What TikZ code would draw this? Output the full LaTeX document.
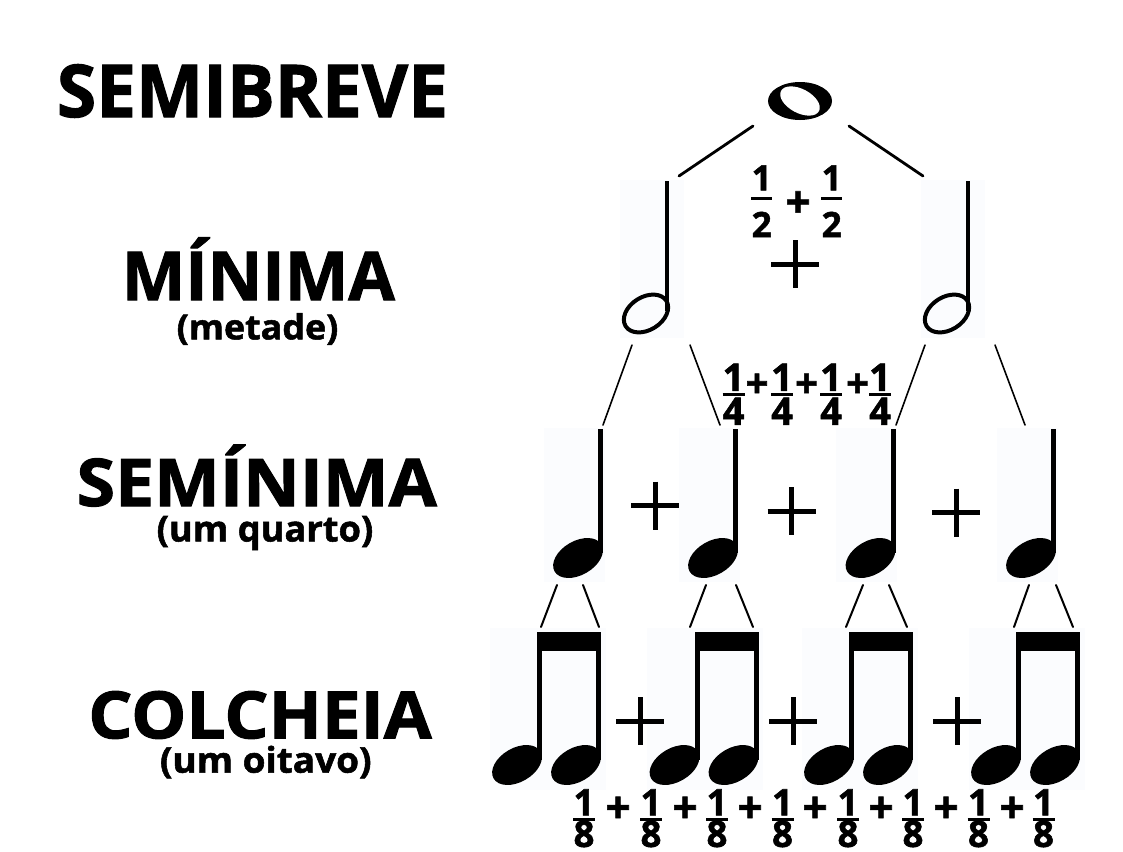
\documentclass[tikz,border=0pt]{standalone}
\usepackage{fontspec}
\setmainfont{Open Sans}[BoldFeatures={FakeBold=1.5}]
\usepackage{graphicx}
\definecolor{faint}{RGB}{251,252,254}
\newcommand\capsfit[3]{\resizebox{#1}{#2}{\raisebox{0pt}[\fontcharht\font`\H][0pt]{#3}}}
\newcommand\allfit[3]{\resizebox*{#1}{#2}{#3}}
\tikzset{
  lbl/.style={inner sep=0pt,font=\bfseries},
  dig/.style={inner sep=0pt,anchor=south,font=\bfseries\fontsize{#1}{#1}\selectfont},
  pls/.style={inner sep=0pt,anchor=base,font=\bfseries\fontsize{#1}{#1}\selectfont},
  bar/.style={line width=3pt},
  bigplus/.style={line width=5pt},
  link/.style={line width=#1, line cap=round},
  halfnote/.pic={
    \fill (19,-3) rectangle (23,-132.5);
    \draw[line width=4pt, rotate=32] (0,0) ellipse [x radius=24, y radius=16.5];
  },
  quarternote/.pic={
    \fill (20,-5) rectangle (25,-129);
    \fill[rotate=30] (0,0) ellipse [x radius=27, y radius=17];
  },
  eighthpair/.pic={
    \fill (-2.5,0) rectangle (2.5,128);
    \fill (56.5,0) rectangle (61.5,128);
    \fill (-2.5,0) rectangle (61.5,19);
    \fill[shift={(-22.5,133)}, rotate=30] (0,0) ellipse [x radius=27, y radius=17];
    \fill[shift={(36.5,133)}, rotate=30] (0,0) ellipse [x radius=27, y radius=17];
  }
}
\begin{document}
\begin{tikzpicture}[x=1pt,y=-1pt]
\useasboundingbox (0,0) rectangle (1123,851);
\fill[white] (0,0) rectangle (1123,851);

% faint backgrounds behind the note images
\fill[faint] (620,180) rectangle (684,338);
\fill[faint] (921,180) rectangle (985,338);
\foreach \s in {600.5,735.5,893,1053.5} {\fill[faint] (\s-57,428) rectangle (\s+4,582);}
\foreach \s in {539.5,697,851.5,1018.5} {\fill[faint] (\s-50,628) rectangle (\s+66,790);}

% labels
\node[lbl] (semibreve) at (252.5,91) {\capsfit{391pt}{52pt}{SEMIBREVE}};
\node[lbl] (minima) at (258.3,276) {\capsfit{273pt}{48pt}{MÍNIMA}};
\node[lbl] (metade) at (257.5,329) {\allfit{161.6pt}{31.7pt}{(metade)}};
\node[lbl] (seminima) at (256.7,482.5) {\capsfit{360pt}{47pt}{SEMÍNIMA}};
\node[lbl] (quarto) at (265,533) {\allfit{216.6pt}{34pt}{(um quarto)}};
\node[lbl] (colcheia) at (260,715) {\capsfit{343.4pt}{46.6pt}{COLCHEIA}};
\node[lbl] (oitavo) at (265.8,762) {\allfit{211.7pt}{32.5pt}{(um oitavo)}};

% whole note
\coordinate (wc) at (800,101);
\fill (wc) ellipse [x radius=32, y radius=19];
\fill[white, rotate around={-28:(wc)}] (wc) ellipse [x radius=21.5, y radius=12];

% half notes
\pic (h1) at (646,313.5) {halfnote};
\pic (h2) at (947,313.5) {halfnote};

% quarter notes
\pic (q1) at (578,558) {quarternote};
\pic (q2) at (713,558) {quarternote};
\pic (q3) at (870.5,558) {quarternote};
\pic (q4) at (1031,558) {quarternote};

% eighth pairs
\pic (e1) at (539.5,632) {eighthpair};
\pic (e2) at (697,632) {eighthpair};
\pic (e3) at (851.5,632) {eighthpair};
\pic (e4) at (1018.5,632) {eighthpair};

% connector end points
\coordinate (w-l) at (753,126);  \coordinate (h1-t) at (679,176);
\coordinate (w-r) at (849,126);  \coordinate (h2-t) at (923,176);
\coordinate (h1-a) at (632,345); \coordinate (q1-t) at (603,425);
\coordinate (h1-b) at (690,345); \coordinate (q2-t) at (720,425);
\coordinate (h2-a) at (925,345); \coordinate (q3-t) at (896,425);
\coordinate (h2-b) at (995,345); \coordinate (q4-t) at (1025,425);
\draw[link=2.8pt] (w-l) -- (h1-t);
\draw[link=2.8pt] (w-r) -- (h2-t);
\draw[link=1.6pt] (h1-a) -- (q1-t);
\draw[link=1.6pt] (h1-b) -- (q2-t);
\draw[link=1.6pt] (h2-a) -- (q3-t);
\draw[link=1.6pt] (h2-b) -- (q4-t);
\foreach \a/\b/\c/\d [count=\i] in {557/541/583/599, 706/690/736/753, 863/846/889/907, 1029/1014/1056/1073} {
  \coordinate (q\i-a) at (\a,585); \coordinate (e\i-a) at (\b,627);
  \coordinate (q\i-b) at (\c,585); \coordinate (e\i-b) at (\d,627);
  \draw[link=2pt] (q\i-a) -- (e\i-a);
  \draw[link=2pt] (q\i-b) -- (e\i-b);
}

% big plus signs
\foreach \cx/\cy in {795/264, 655/505.5, 791.5/511, 956/512.5, 640/721, 793/721, 957/721} {
  \draw[bigplus] (\cx-24,\cy) -- (\cx+24,\cy);
  \draw[bigplus] (\cx,\cy-24) -- (\cx,\cy+24);
}

% fractions 1/2
\foreach \x [count=\i] in {761.7,831.7} {
  \node[dig=35] (hn\i) at (\x,190.5) {1};
  \node[dig=35] (hd\i) at (\x,237.3) {2};
  \draw[bar] (\x-10.5,198) -- (\x+10.5,198);
}
\node[pls=44] (hp1) at (798,217.5) {+};

% fractions 1/4
\foreach \x [count=\i] in {733.5,782,831,880} {
  \node[dig=38] (qn\i) at (\x,391) {1};
  \node[dig=38] (qd\i) at (\x,425) {4};
  \draw[bar] (\x-11,394.5) -- (\x+11,394.5);
}
\foreach \x [count=\i] in {757,806.5,857.5} {
  \node[pls=40] (qp\i) at (\x,397.5) {+};
}

% fractions 1/8
\foreach \x [count=\i] in {584,651,717,782.5,848,913,978.5,1043.5} {
  \node[dig=36.5] (en\i) at (\x,815.5) {1};
  \node[dig=36.5] (ed\i) at (\x,847.5) {8};
  \draw[bar] (\x-11,819) -- (\x+11,819);
}
\foreach \x [count=\i] in {618,685,750,815,881,946,1012} {
  \node[pls=44] (ep\i) at (\x,823) {+};
}
\end{tikzpicture}
\end{document}
